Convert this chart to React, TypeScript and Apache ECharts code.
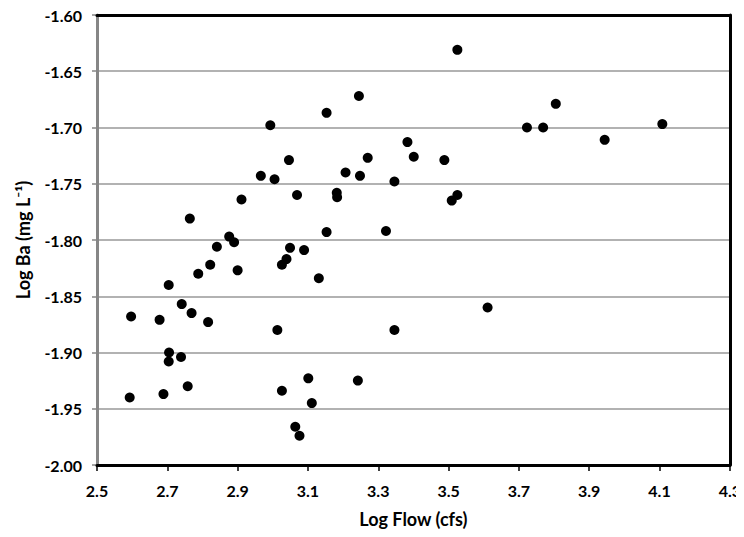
import React, { useEffect, useRef } from "react";
import * as echarts from "echarts";

const logFlow: number[] = [
  2.764, 2.911, 2.966, 3.005, 2.993, 3.046, 3.069, 3.153, 3.245, 3.207,
  3.248, 3.270, 3.182, 3.183, 3.153, 3.089, 3.049, 3.039, 3.026, 2.876,
  2.890, 2.841, 2.822, 2.900, 2.788, 3.131, 2.704, 2.741, 2.769, 2.816,
  2.597, 2.678, 3.013, 2.705, 2.704, 2.739, 2.758, 2.689, 2.593, 3.101,
  3.026, 3.111, 3.242, 3.064, 3.076, 3.346, 3.611, 3.525, 3.805, 3.723,
  3.769, 4.108, 3.944, 3.383, 3.401, 3.488, 3.346, 3.525, 3.509, 3.322,
];
const logBa: number[] = [
  -1.781, -1.764, -1.743, -1.746, -1.698, -1.729, -1.760, -1.687, -1.672, -1.740,
  -1.743, -1.727, -1.758, -1.762, -1.793, -1.809, -1.807, -1.817, -1.822, -1.797,
  -1.802, -1.806, -1.822, -1.827, -1.830, -1.834, -1.840, -1.857, -1.865, -1.873,
  -1.868, -1.871, -1.880, -1.900, -1.908, -1.904, -1.930, -1.937, -1.940, -1.923,
  -1.934, -1.945, -1.925, -1.966, -1.974, -1.880, -1.860, -1.631, -1.679, -1.700,
  -1.700, -1.697, -1.711, -1.713, -1.726, -1.729, -1.748, -1.760, -1.765, -1.792,
];

const xAxisName = "Log Flow (cfs)";
const yAxisName = "Log Ba (mg L⁻¹)";

export default function App() {
  const ref = useRef<HTMLDivElement>(null);
  useEffect(() => {
    if (!ref.current) return;
    const chart = echarts.init(ref.current, undefined, { renderer: "svg" });
    const font = "Lato, 'Open Sans', sans-serif";
    chart.setOption({
      animation: false,
      backgroundColor: "#ffffff",
      grid: {
        left: 97,
        right: 14,
        top: 15,
        bottom: 72,
        show: false,
      },
      xAxis: [
        {
          type: "value",
          min: 2.5,
          max: 4.3,
          interval: 0.2,
          name: xAxisName,
          nameLocation: "middle",
          nameGap: 45,
          nameTextStyle: { fontFamily: font, fontWeight: "bold", fontSize: 18, color: "#000" },
          axisLine: { show: true, lineStyle: { color: "#000", width: 3 } },
          axisTick: { show: true, length: 6, lineStyle: { color: "#000", width: 1.5 } },
          axisLabel: {
            margin: 17,
            fontFamily: font,
            fontWeight: "bold",
            fontSize: 16,
            color: "#000",
            formatter: (v: number) => v.toFixed(1),
          },
          splitLine: { show: false },
          z: 5,
        },
        {
          type: "value",
          position: "top",
          min: 2.5,
          max: 4.3,
          interval: 0.2,
          axisLine: { show: true, lineStyle: { color: "#000", width: 3 } },
          axisTick: { show: false },
          axisLabel: { show: false },
          splitLine: { show: false },
          z: 5,
        },
      ],
      yAxis: [
        {
          type: "value",
          min: -2.0,
          max: -1.6,
          interval: 0.05,
          name: yAxisName,
          nameLocation: "middle",
          nameGap: 65,
          nameTextStyle: { fontFamily: font, fontWeight: "bold", fontSize: 18, color: "#000" },
          axisLine: { show: true, lineStyle: { color: "#868686", width: 3 } },
          axisTick: { show: true, length: 5, lineStyle: { color: "#868686", width: 1.5 } },
          axisLabel: {
            margin: 15,
            fontFamily: font,
            fontWeight: "bold",
            fontSize: 16,
            color: "#000",
            formatter: (v: number) => v.toFixed(2),
          },
          splitLine: { show: true, lineStyle: { color: "#999999", width: 1.5 } },
          z: 4,
        },
        {
          type: "value",
          position: "right",
          min: -2.0,
          max: -1.6,
          interval: 0.05,
          axisLine: { show: true, lineStyle: { color: "#000", width: 3 } },
          axisTick: { show: false },
          axisLabel: { show: false },
          splitLine: { show: false },
          z: 5,
        },
      ],
      series: [
        {
          type: "scatter",
          xAxisIndex: 0,
          yAxisIndex: 0,
          data: logFlow.map((x, i) => [x, logBa[i]]),
          symbol: "circle",
          symbolSize: 10,
          itemStyle: { color: "#000000", opacity: 1 },
          z: 6,
        },
      ],
    });
    return () => chart.dispose();
  }, []);
  return <div ref={ref} style={{ width: 744, height: 537, margin: -8 }} />;
}
